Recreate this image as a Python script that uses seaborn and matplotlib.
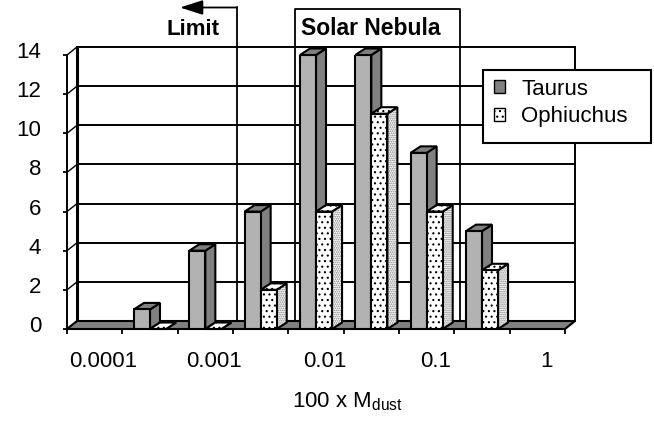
import numpy as np
import pandas as pd
import matplotlib
matplotlib.use("Agg")
import matplotlib.pyplot as plt
import seaborn as sns
from matplotlib.patches import Polygon, Patch, Rectangle
from matplotlib.lines import Line2D
from matplotlib.transforms import ScaledTranslation

# half-decade bins of 100 x Mdust, number of disks per bin
mass_bins = ["1e-4", "3e-4", "1e-3", "3e-3", "1e-2", "3e-2", "1e-1", "3e-1", "1e0"]
bin_labels = ["0.0001", "", "0.001", "", "0.01", "", "0.1", "", "1"]
taurus = [np.nan, 1, 4, 6, 14, 14, 9, 5, np.nan]
ophiuchus = [np.nan, 0, 0, 2, 6, 11, 6, 3, np.nan]
regions = ["Taurus", "Ophiuchus"]
y_ticks = [0, 2, 4, 6, 8, 10, 12, 14]

W, H = 654, 421
FRONT = {"Taurus": "#b2b2b2", "Ophiuchus": "white"}
SIDE = {"Taurus": "#808080", "Ophiuchus": "white"}
HATCH_FRONT = {"Taurus": None, "Ophiuchus": "..."}
HATCH_SIDE = {"Taurus": None, "Ophiuchus": "........"}
LW = 1.5

df = pd.DataFrame({
    "bin": mass_bins * 2,
    "count": taurus + ophiuchus,
    "region": ["Taurus"] * len(mass_bins) + ["Ophiuchus"] * len(mass_bins),
})

sns.set_style("white")
plt.rcParams["font.family"] = ["Liberation Sans", "DejaVu Sans"]
plt.rcParams["hatch.linewidth"] = 0.8
for k in ["text.color", "axes.labelcolor", "xtick.color", "ytick.color"]:
    plt.rcParams[k] = "black"


def fx(x):
    return x / W


def fy(y):
    return 1 - y / H


fig = plt.figure(figsize=(W / 100, H / 100), dpi=100)
# the front plane of the 3d box: x 67..565 px, y 55..329 px
ax = fig.add_axes([fx(67), fy(329), 498 / W, 274 / H])

sns.barplot(data=df, x="bin", y="count", hue="region", order=mass_bins,
            hue_order=regions, palette=FRONT, width=0.58, saturation=1,
            edgecolor="black", linewidth=LW, legend=False, ax=ax)

nb = len(mass_bins)
x0, x1 = -0.5, nb - 0.5
ax.set_xlim(x0, x1)
ax.set_ylim(0, 14)
ax.set_ylabel("")
for s in ax.spines.values():
    s.set_visible(False)

# depth of the 3d effect, pixels -> data units
xpp = nb / 498.0
ypp = 14 / 274.0
wall_dx, wall_dy = 10 * xpp, 8 * ypp
bar_dx, bar_dy = 10 * xpp, 6.5 * ypp

# back wall with gridlines
for v in y_ticks:
    ax.plot([x0 + wall_dx, x1 + wall_dx], [v + wall_dy] * 2, color="black",
            lw=1.4, zorder=0.5, clip_on=False)
    ax.plot([x0, x0 + wall_dx], [v, v + wall_dy], color="black", lw=1.0,
            zorder=0.5, clip_on=False)
ax.plot([x0 + wall_dx] * 2, [wall_dy, 14 + wall_dy], color="black", lw=2.2,
        zorder=0.5, clip_on=False)
ax.plot([x1 + wall_dx] * 2, [wall_dy, 14 + wall_dy], color="black", lw=1.4,
        zorder=0.5, clip_on=False)
ax.plot([x0, x0], [0, 14], color="black", lw=1.4, zorder=0.6, clip_on=False)

# floor
ax.add_patch(Polygon([(x0, 0), (x1, 0), (x1 + wall_dx, wall_dy), (x0 + wall_dx, wall_dy)],
                     closed=True, fc="#808080", ec="black", lw=LW, zorder=1,
                     clip_on=False))

# side and top faces for every bar
for i, (region, cont) in enumerate(zip(regions, ax.containers)):
    zf = 2 + i * 0.2
    for bar in cont:
        x, w, h = bar.get_x(), bar.get_width(), bar.get_height()
        if np.isnan(h):
            continue
        bar.set_zorder(zf + 0.1)
        bar.set_hatch(HATCH_FRONT[region])
        side_xy = [(x + w, 0), (x + w + bar_dx, bar_dy),
                   (x + w + bar_dx, h + bar_dy), (x + w, h)]
        top_xy = [(x, h), (x + bar_dx, h + bar_dy),
                  (x + w + bar_dx, h + bar_dy), (x + w, h)]
        # fine grey dots on the side, then a black outline
        ax.add_patch(Polygon(side_xy, closed=True, fc=SIDE[region], ec="#7a7a7a",
                             lw=0, hatch=HATCH_SIDE[region], zorder=zf,
                             clip_on=False))
        ax.add_patch(Polygon(side_xy, closed=True, fill=False, ec="black", lw=LW,
                             zorder=zf, clip_on=False))
        ax.add_patch(Polygon(top_xy, closed=True, fc=SIDE[region], ec="black", lw=LW,
                             hatch=HATCH_FRONT[region], zorder=zf, clip_on=False))

# ticks and labels
ax.set_xticks(range(nb))
ax.set_xticklabels(bin_labels, fontsize=16)
ax.set_xticks(np.arange(x0, x1 + 0.01, 1), minor=True)
ax.tick_params(axis="x", which="major", length=0, pad=15.5, bottom=True)
ax.tick_params(axis="x", which="minor", length=3.6, width=1.3, direction="out",
               bottom=True)
ax.set_yticks(y_ticks)
ax.tick_params(axis="y", length=3, width=1.3, pad=15.5, labelsize=16, left=True)
for lab in ax.get_xticklabels():
    lab.set_transform(lab.get_transform() + ScaledTranslation(0.09, 0, fig.dpi_scale_trans))
for lab in ax.get_yticklabels():
    lab.set_transform(lab.get_transform() + ScaledTranslation(0, 0.05, fig.dpi_scale_trans))

ax.set_xlabel("100 x M$_\\mathregular{dust}$", fontsize=16)
ax.xaxis.set_label_coords((347 - 67) / 498, -(407 - 329) / 274)
ax.xaxis.label.set_va("baseline")

# "Limit" marker with arrow
fig.add_artist(Line2D([fx(237)] * 2, [fy(7), fy(321)], color="black", lw=1.3))
ax.annotate("", xy=(fx(180), fy(7.5)), xytext=(fx(237), fy(7.5)),
            xycoords="figure fraction", textcoords="figure fraction",
            arrowprops=dict(arrowstyle="-|>,head_length=1.4,head_width=0.45",
                            mutation_scale=10, color="black", lw=1.3,
                            shrinkA=0, shrinkB=0))
fig.text(fx(192.5), fy(35), "Limit", fontsize=16, fontweight="bold",
         ha="center", va="baseline")

# "Solar Nebula" box
fig.add_artist(Line2D([fx(295), fx(295), fx(460), fx(460)],
                      [fy(321), fy(9), fy(9), fy(321)], color="black", lw=1.3))
fig.text(fx(371), fy(35), "Solar Nebula", fontsize=16.5, fontweight="bold",
         ha="center", va="baseline")

# legend
fig.add_artist(Rectangle((fx(483), fy(143)), (651 - 483) / W, (143 - 70) / H,
                         transform=fig.transFigure, fc="white", ec="black",
                         lw=1.5, zorder=4))
handles = [Patch(fc="#808080", ec="black", lw=1.0),
           Patch(fc="white", ec="black", lw=1.0, hatch="...")]
fig.legend(handles, regions, loc="upper left", bbox_to_anchor=(fx(487), fy(72)),
           frameon=False, fontsize=16, handlelength=0.5, handleheight=0.5,
           handletextpad=0.75, labelspacing=0.3, borderpad=0.3, borderaxespad=0)

fig.savefig("out.png", dpi=100)
